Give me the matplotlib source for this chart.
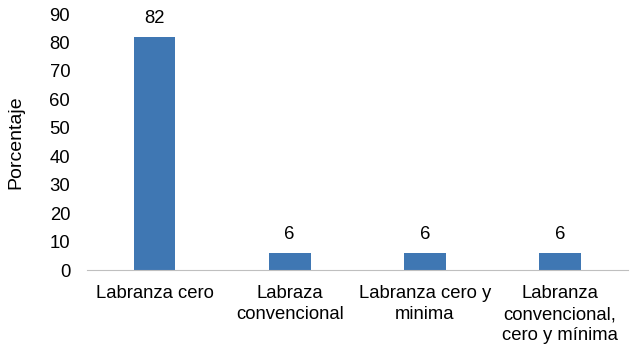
import numpy as np
import matplotlib.pyplot as plt

plt.rcParams['font.family'] = ['Liberation Sans', 'DejaVu Sans']

categorias = ["Labranza cero", "Labraza\nconvencional", "Labranza cero y\nminima",
              "Labranza\nconvencional,\ncero y mínima"]
porcentaje = [82, 6, 6, 6]

fig = plt.figure(figsize=(6.34, 3.53), dpi=100)
ax = fig.add_axes([0.137, 0.235, 0.853, 0.725])

x = np.arange(len(categorias))
barras = ax.bar(x, porcentaje, width=0.31, color='#3F77B3')
for b, v in zip(barras, porcentaje):
    ax.text(b.get_x() + b.get_width() / 2, v + 3.5, str(v), ha='center', va='bottom', fontsize=13.3)

ax.set_xlim(-0.5, len(categorias) - 0.5)
ax.set_ylim(0, 90)
ax.set_yticks(range(0, 91, 10))
ax.set_xticks(x)
ax.set_xticklabels(categorias, fontsize=13.3, linespacing=1.3)
ax.tick_params(axis='y', length=0, labelsize=13.3, pad=12)
ax.tick_params(axis='x', length=0, pad=11)
for s in ['top', 'right', 'left']:
    ax.spines[s].set_visible(False)
ax.spines['bottom'].set_color('#BFBFBF')
ax.set_ylabel("Porcentaje", fontsize=14, labelpad=18)

fig.savefig("out.png", dpi=100)
